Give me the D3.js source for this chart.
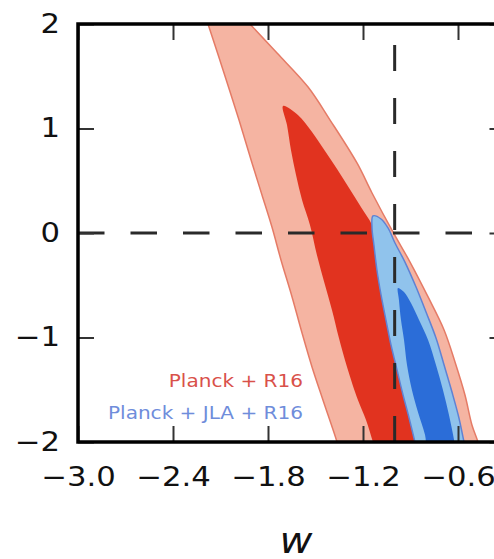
<!DOCTYPE html>
<html>
<head>
<meta charset="utf-8">
<script src="https://cdn.jsdelivr.net/npm/d3@7"></script>
<style>
body { margin: 0; background: #fff; }
</style>
</head>
<body>
<div id="chart"></div>
<script>
// tick values
var xTicks = [-3.0, -2.4, -1.8, -1.2, -0.6];
var yTicks = [-2, -1, 0, 1, 2];

// reference lines
var wRef = [-1.0];
var yRef = [0];

// contours [w, y]
// Planck + R16, 95%
var redOuter = [
    [-2.229, 2.230], [-2.179, 2.0], [-2.084, 1.560], [-1.983, 1.081],
    [-1.901, 0.670], [-1.838, 0.364], [-1.775, 0.057], [-1.718, -0.258],
    [-1.648, -0.612], [-1.585, -0.957], [-1.522, -1.282], [-1.453, -1.598],
    [-1.364, -2.0], [-1.333, -2.172], [-0.448, -2.172], [-0.474, -2.0],
    [-0.512, -1.837], [-0.556, -1.550], [-0.619, -1.234], [-0.688, -0.928],
    [-0.789, -0.612], [-0.903, -0.278], [-1.011, 0.010], [-1.143, 0.383],
    [-1.238, 0.670], [-1.408, 1.081], [-1.547, 1.397], [-1.743, 1.722],
    [-1.914, 2.0], [-2.053, 2.230]
];
// Planck + R16, 68%
var redInner = [
    [-1.705, 1.215], [-1.680, 1.033], [-1.655, 0.794], [-1.623, 0.555],
    [-1.585, 0.316], [-1.535, 0.077], [-1.491, -0.211], [-1.440, -0.498],
    [-1.396, -0.737], [-1.352, -1.005], [-1.301, -1.282], [-1.232, -1.598],
    [-1.181, -1.789], [-1.137, -2.0], [-1.112, -2.124], [-0.846, -2.124],
    [-0.865, -2.0], [-0.916, -1.598], [-0.960, -1.282], [-1.011, -1.024],
    [-1.048, -0.689], [-1.074, -0.402], [-1.105, -0.115], [-1.143, 0.077],
    [-1.213, 0.249], [-1.288, 0.431], [-1.364, 0.612], [-1.440, 0.785],
    [-1.522, 0.967], [-1.611, 1.129]
];
// Planck + JLA + R16, 95%
var blueOuter = [
    [-1.137, 0.163], [-1.143, 0.048], [-1.131, -0.115], [-1.112, -0.354],
    [-1.086, -0.593], [-1.055, -0.833], [-1.023, -1.072], [-0.985, -1.311],
    [-0.947, -1.550], [-0.909, -1.770], [-0.872, -2.0], [-0.853, -2.124],
    [-0.543, -2.124], [-0.562, -2.0], [-0.594, -1.770], [-0.638, -1.522],
    [-0.688, -1.263], [-0.739, -1.005], [-0.802, -0.756], [-0.865, -0.517],
    [-0.935, -0.278], [-0.998, -0.096], [-1.042, 0.048], [-1.086, 0.134]
];
// Planck + JLA + R16, 68%
var blueInner = [
    [-0.979, -0.526], [-0.973, -0.641], [-0.960, -0.833], [-0.941, -1.024],
    [-0.922, -1.263], [-0.891, -1.502], [-0.853, -1.713], [-0.808, -1.933],
    [-0.783, -2.124], [-0.613, -2.124], [-0.625, -1.981], [-0.657, -1.742],
    [-0.695, -1.502], [-0.739, -1.263], [-0.789, -1.024], [-0.846, -0.833],
    [-0.897, -0.670], [-0.941, -0.565]
];

var legendLabels = ["Planck + R16", "Planck + JLA + R16"];
var legendColors = ["#d9514a", "#6f8ddb"];

var width = 494;
var height = 559;
var mLeft = 78, mTop = 24, mRight = 505.5, mBottom = 442;
var stretch = 1.18;

var svg = d3.select("#chart").append("svg")
    .attr("width", width)
    .attr("height", height)
    .style("display", "block");

var x = d3.scaleLinear()
    .domain([-3.0, -0.3])
    .range([mLeft, mRight]);

var y = d3.scaleLinear()
    .domain([-2, 2])
    .range([mBottom, mTop]);

svg.append("defs").append("clipPath")
    .attr("id", "plot")
    .append("rect")
    .attr("x", mLeft)
    .attr("y", mTop)
    .attr("width", mRight - mLeft)
    .attr("height", mBottom - mTop);

var line = d3.line()
    .x(function (d) { return x(d[0]); })
    .y(function (d) { return y(d[1]); })
    .curve(d3.curveCatmullRomClosed.alpha(0.5));

var plot = svg.append("g").attr("clip-path", "url(#plot)");

plot.append("path")
    .attr("d", line(redOuter))
    .attr("fill", "#f5b4a2")
    .attr("stroke", "#e57b66")
    .attr("stroke-width", 1.5);

plot.append("path")
    .attr("d", line(redInner))
    .attr("fill", "#e1331f");

plot.append("path")
    .attr("d", line(blueOuter))
    .attr("fill", "#90c3ec")
    .attr("stroke", "#5f82d4")
    .attr("stroke-width", 1.5);

plot.append("path")
    .attr("d", line(blueInner))
    .attr("fill", "#2b6dd8");

// dashed reference lines
plot.selectAll(".href")
    .data(yRef)
    .enter().append("line")
    .attr("x1", mLeft)
    .attr("x2", mRight)
    .attr("y1", y)
    .attr("y2", y)
    .attr("stroke", "#2a2a2a")
    .attr("stroke-width", 3)
    .attr("stroke-dasharray", "26.5,26");

plot.selectAll(".vref")
    .data(wRef)
    .enter().append("line")
    .attr("x1", x)
    .attr("x2", x)
    .attr("y1", mBottom)
    .attr("y2", mTop)
    .attr("stroke", "#2a2a2a")
    .attr("stroke-width", 3)
    .attr("stroke-dasharray", "26,27");

// axes
var fmtX = d3.format(".1f");
var fmtY = d3.format("d");

var gx = svg.append("g")
    .attr("transform", "translate(0," + mBottom + ")")
    .call(d3.axisBottom(x).tickValues(xTicks).tickFormat(fmtX)
        .tickSizeInner(-16).tickSizeOuter(0).tickPadding(26));

var gxTop = svg.append("g")
    .attr("transform", "translate(0," + mTop + ")")
    .call(d3.axisTop(x).tickValues(xTicks).tickFormat("")
        .tickSizeInner(-16).tickSizeOuter(0));

var gy = svg.append("g")
    .attr("transform", "translate(" + mLeft + ",0)")
    .call(d3.axisLeft(y).tickValues(yTicks).tickFormat(fmtY)
        .tickSizeInner(-16).tickSizeOuter(0).tickPadding(18));

var gyRight = svg.append("g")
    .attr("transform", "translate(" + mRight + ",0)")
    .call(d3.axisRight(y).tickValues(yTicks).tickFormat("")
        .tickSizeInner(-16).tickSizeOuter(0));

[gx, gxTop, gy, gyRight].forEach(function (g) {
    g.select(".domain").remove();
    g.selectAll(".tick line")
        .attr("stroke", "#333")
        .attr("stroke-width", 2);
});

gx.selectAll("text")
    .attr("fill", "#111")
    .style("font-family", "DejaVu Sans")
    .style("font-size", "26px")
    .attr("transform", "scale(" + stretch + ",1)");

gy.selectAll("text")
    .attr("fill", "#111")
    .style("font-family", "DejaVu Sans")
    .style("font-size", "26px")
    .attr("x", -18 / stretch)
    .attr("transform", "scale(" + stretch + ",1)");

// frame
svg.append("rect")
    .attr("x", mLeft)
    .attr("y", mTop)
    .attr("width", mRight - mLeft)
    .attr("height", mBottom - mTop)
    .attr("fill", "none")
    .attr("stroke", "#000")
    .attr("stroke-width", 3.5);

// legend
svg.selectAll(".legend")
    .data(legendLabels)
    .enter().append("text")
    .attr("class", "legend")
    .attr("transform", function (d, i) {
        return "translate(303," + (387 + i * 32) + ") scale(" + stretch + ",1)";
    })
    .attr("text-anchor", "end")
    .style("font-family", "DejaVu Sans")
    .style("font-size", "17px")
    .attr("fill", function (d, i) { return legendColors[i]; })
    .text(function (d) { return d; });

// x label
svg.append("text")
    .attr("transform", "translate(296,553) scale(1.12,1)")
    .attr("text-anchor", "middle")
    .style("font-family", "DejaVu Sans")
    .style("font-style", "italic")
    .style("font-size", "36px")
    .attr("fill", "#111")
    .text("w");
</script>
</body>
</html>
